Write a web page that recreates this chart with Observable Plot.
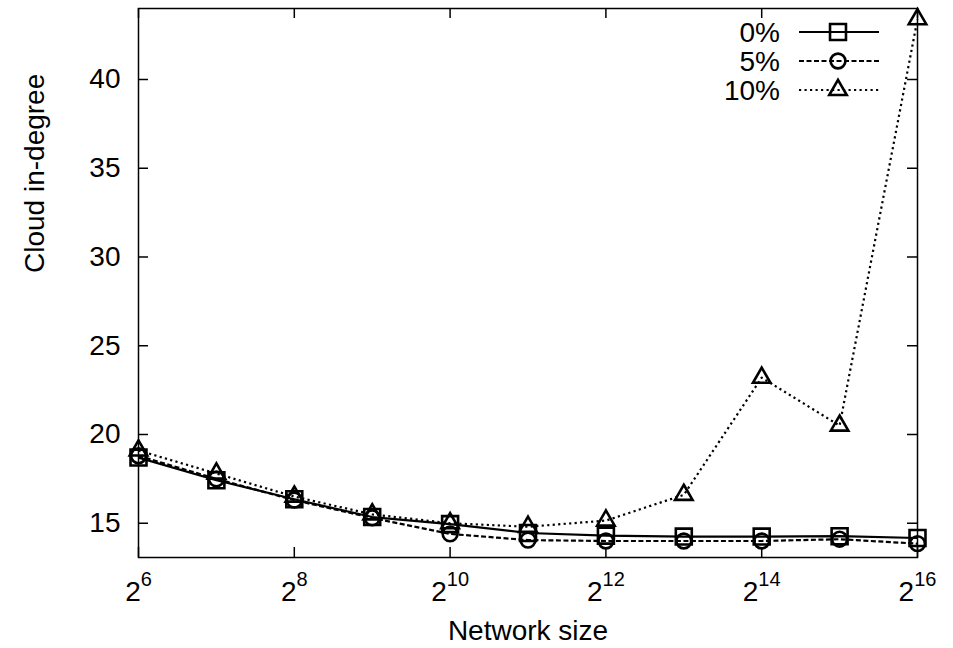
<!DOCTYPE html>
<html>
<head>
<meta charset="utf-8">
<script src="https://cdn.jsdelivr.net/npm/d3@7"></script>
<script src="https://cdn.jsdelivr.net/npm/@observablehq/plot@0.6"></script>
<style>
  html, body { margin: 0; padding: 0; background: #fff; }
  #chart { width: 953px; height: 648px; }
</style>
</head>
<body>
<div id="chart"></div>
<script>
// ---- data ----
const networkSizes = [64, 128, 256, 512, 1024, 2048, 4096, 8192, 16384, 32768, 65536];
const seriesNames = ["0%", "5%", "10%"];
const degree0 = [18.7, 17.42, 16.35, 15.35, 14.95, 14.45, 14.3, 14.25, 14.25, 14.27, 14.17];
const degree5 = [18.8, 17.5, 16.3, 15.3, 14.4, 14.05, 14.0, 14.0, 14.0, 14.1, 13.85];
const degree10 = [19.1, 17.8, 16.5, 15.5, 15.0, 14.8, 15.15, 16.6, 23.2, 20.5, 43.4];
const xTicks = [64, 256, 1024, 4096, 16384, 65536];
const yTicks = [15, 20, 25, 30, 35, 40];
const xLabel = "Network size";
const yLabel = "Cloud in-degree";

// ---- styles per series ----
const seriesValues = [degree0, degree5, degree10];
const styles = [
  {symbol: "square", d3sym: d3.symbolSquare, r: 9, dash: null},
  {symbol: "circle", d3sym: d3.symbolCircle, r: 7.4, dash: "5,2.5"},
  {symbol: "triangle", d3sym: d3.symbolTriangle, r: 6.5, dash: "2.2,3.3"}
];

const W = 953, H = 648;
const mL = 138, mR = 36, mT = 8, mB = 91;
const plotW = W - mL - mR, plotH = H - mT - mB;
const font = "'Liberation Sans', Arial, Helvetica, sans-serif";
const fs = 28;

const rowsFor = i => networkSizes.map((s, j) => ({size: s, deg: seriesValues[i][j], series: seriesNames[i]}));

const marks = [];
seriesNames.forEach((name, i) => {
  marks.push(Plot.line(rowsFor(i), {x: "size", y: "deg", stroke: "black", strokeWidth: 2.2,
    strokeDasharray: styles[i].dash, strokeLinecap: "butt"}));
});
seriesNames.forEach((name, i) => {
  marks.push(Plot.dot(rowsFor(i), {x: "size", y: "deg", symbol: () => styles[i].symbol, r: styles[i].r,
    stroke: "black", strokeWidth: 2.6, fill: "none"}));
});

marks.push(Plot.frame({stroke: "black", strokeWidth: 1.5}));
marks.push(Plot.tickY(yTicks, {y: d => d, insetRight: plotW - 10, stroke: "black", strokeWidth: 1.5}));
marks.push(Plot.tickY(yTicks, {y: d => d, insetLeft: plotW - 10, stroke: "black", strokeWidth: 1.5}));
marks.push(Plot.tickX(xTicks, {x: d => d, insetTop: plotH - 10, stroke: "black", strokeWidth: 1.5}));
marks.push(Plot.tickX(xTicks, {x: d => d, insetBottom: plotH - 10, stroke: "black", strokeWidth: 1.5}));
marks.push(Plot.axisY(yTicks, {tickSize: 0, tickPadding: 18, fontSize: fs, label: null}));
marks.push(Plot.axisX(xTicks, {tickSize: 0, tickPadding: 24, fontSize: fs, label: null,
  tickFormat: d => `2^${Math.round(Math.log2(d))}`}));
marks.push(Plot.text([xLabel], {text: d => d, frameAnchor: "bottom", dy: 74, lineAnchor: "middle", fontSize: fs}));
marks.push(Plot.text([yLabel], {text: d => d, frameAnchor: "left", rotate: -90, dx: -103, dy: -10, lineAnchor: "middle", fontSize: fs}));

const chart = Plot.plot({
  width: W, height: H,
  marginLeft: mL, marginRight: mR, marginTop: mT, marginBottom: mB,
  style: {fontFamily: font, color: "black", background: "white", overflow: "visible"},
  x: {type: "log", base: 2, domain: [64, 65536], axis: null},
  y: {domain: [13.07, 44], axis: null},
  marks
});

// superscript exponents on x tick labels
d3.select(chart).selectAll('g[aria-label="x-axis tick label"] text').each(function() {
  const s = this.textContent;
  const [b, e] = s.split("^");
  const t = d3.select(this);
  t.selectAll("*").remove();
  t.text(null);
  t.append("tspan").text(b);
  t.append("tspan").attr("dy", "-0.75em").attr("font-size", 20).text(e);
});

// legend (top-right, inside frame)
const lg = d3.select(chart).append("g").attr("font-family", font).attr("font-size", fs).attr("fill", "black");
seriesNames.forEach((name, i) => {
  const y = 32 + i * 29;
  lg.append("text").attr("x", 780).attr("y", y).attr("dy", "0.35em").attr("text-anchor", "end").text(name);
  const ln = lg.append("line").attr("x1", 799).attr("x2", 879).attr("y1", y).attr("y2", y)
    .attr("stroke", "black").attr("stroke-width", 2.2);
  if (styles[i].dash) ln.attr("stroke-dasharray", styles[i].dash);
  lg.append("path").attr("transform", `translate(838,${y})`)
    .attr("d", d3.symbol(styles[i].d3sym, Math.PI * styles[i].r * styles[i].r)())
    .attr("fill", "none").attr("stroke", "black").attr("stroke-width", 2.6);
});

document.getElementById("chart").appendChild(chart);
</script>
</body>
</html>
